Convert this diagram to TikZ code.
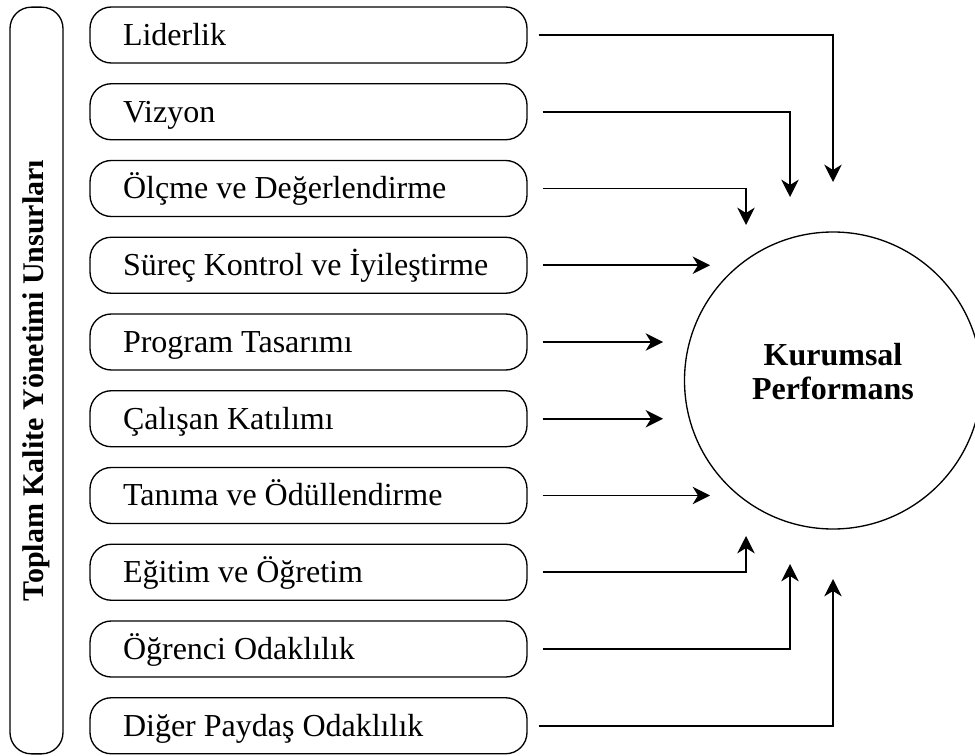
\documentclass[tikz,border=0pt]{standalone}
\usepackage{fontspec}
\setmainfont{Liberation Serif}
\usetikzlibrary{arrows.meta,calc}
\newcommand{\itemtxt}[1]{\makebox[278.25pt][l]{#1}}
\begin{document}
\begin{tikzpicture}[x=0.75pt,y=-0.75pt,
  item/.style={draw, line width=1pt, rounded corners=16pt, minimum height=42pt,
    minimum width=327.75pt, inner xsep=0pt, inner ysep=0pt,
    text height=21.6pt, text depth=6pt, font=\fontsize{24}{28}\selectfont},
  bar/.style={draw, line width=1pt, rounded corners=16pt},
  conn/.style={line width=1.2pt, -{Stealth[length=13pt,width=13pt,inset=4pt]}},
  perf/.style={draw, circle, line width=1pt, minimum size=222.75pt, inner sep=0pt,
    align=center, text depth=14pt, font=\fontsize{24}{25.5}\selectfont\bfseries}]
\clip (0,0) rectangle (975,756);
\fill[white] (0,0) rectangle (975,756);
% left bar
\node[bar, minimum width=39.75pt, minimum height=560pt, inner sep=0pt] (bar) at (36.5,380.5) {};
\node[rotate=90, font=\fontsize{22.5}{24}\selectfont\bfseries] (bartext) at (bar.center) {Toplam Kalite Yönetimi Unsurları};
% items
\node[item] (b1) at (308.5,35) {\itemtxt{Liderlik}};
\node[item] (b2) at (308.5,111.75) {\itemtxt{Vizyon}};
\node[item] (b3) at (308.5,188.5) {\itemtxt{Ölçme ve Değerlendirme}};
\node[item] (b4) at (308.5,265.25) {\itemtxt{Süreç Kontrol ve İyileştirme}};
\node[item] (b5) at (308.5,342) {\itemtxt{Program Tasarımı}};
\node[item] (b6) at (308.5,418.75) {\itemtxt{Çalışan Katılımı}};
\node[item] (b7) at (308.5,495.5) {\itemtxt{Tanıma ve Ödüllendirme}};
\node[item] (b8) at (308.5,572.25) {\itemtxt{Eğitim ve Öğretim}};
\node[item] (b9) at (308.5,649) {\itemtxt{Öğrenci Odaklılık}};
\node[item] (b10) at (308.5,725.75) {\itemtxt{Diğer Paydaş Odaklılık}};
% circle
\node[perf] (kp) at (833,380.5) {Kurumsal\\Performans};
% arrow tips
\coordinate (t1) at (833,182);
\coordinate (t2) at (790,197);
\coordinate (t3) at (746,225);
\coordinate (t4) at (710,265.25);
\coordinate (t5) at (663,342);
\coordinate (t6) at (663,418.75);
\coordinate (t7) at (710,495.5);
\coordinate (t8) at (746,536);
\coordinate (t9) at (790,564);
\coordinate (t10) at (833,579);
% connectors
\draw[conn] ($(b1.east)+(11,0)$) -| (t1);
\draw[conn] ($(b2.east)+(15,0)$) -| (t2);
\draw[conn] ($(b3.east)+(15,0)$) -| (t3);
\draw[conn] ($(b4.east)+(15,0)$) -- (t4);
\draw[conn] ($(b5.east)+(15,0)$) -- (t5);
\draw[conn] ($(b6.east)+(15,0)$) -- (t6);
\draw[conn] ($(b7.east)+(15,0)$) -- (t7);
\draw[conn] ($(b8.east)+(15,0)$) -| (t8);
\draw[conn] ($(b9.east)+(15,0)$) -| (t9);
\draw[conn] ($(b10.east)+(11,0)$) -| (t10);
\end{tikzpicture}
\end{document}
